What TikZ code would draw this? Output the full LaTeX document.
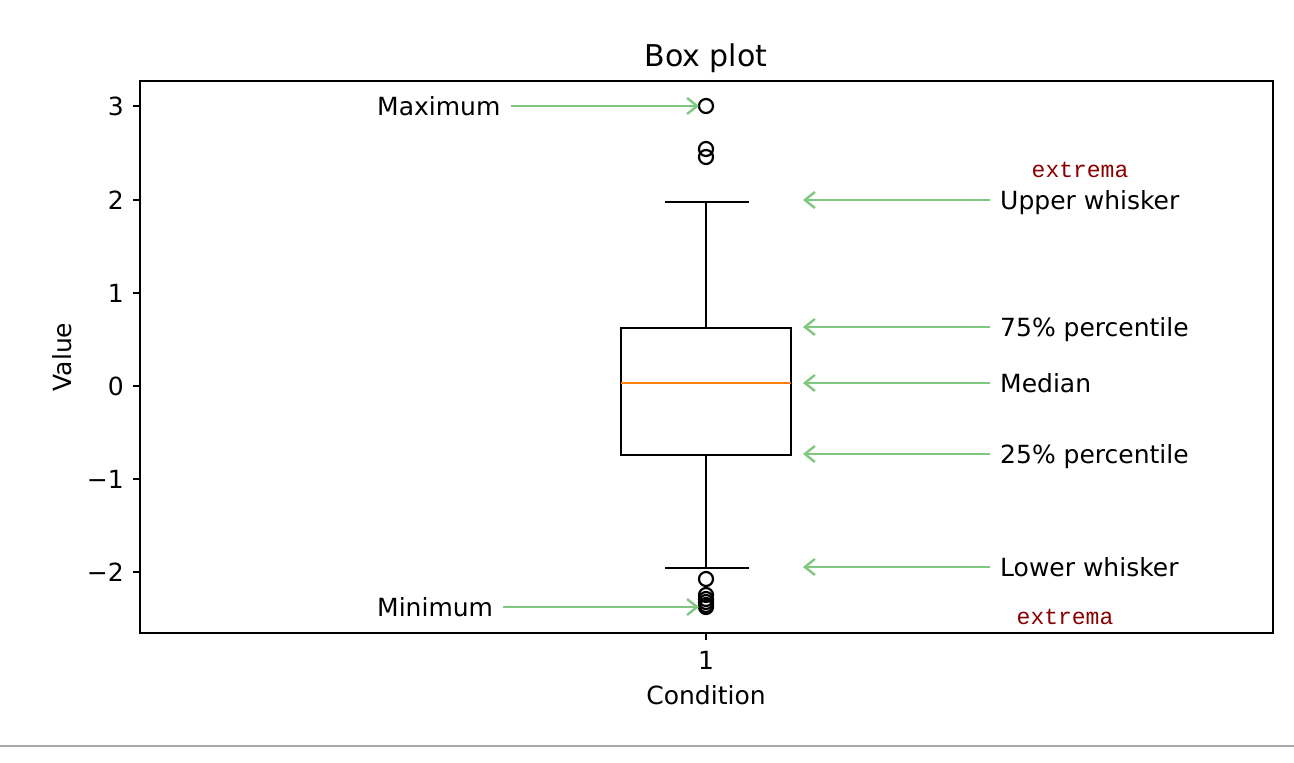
\documentclass[tikz,border=0pt]{standalone}
\usepackage{fontspec}
\setmainfont{DejaVu Sans}
\newfontfamily\extremafont{Liberation Mono}
\usepackage{tikz}
\usepackage{xcolor}
\usetikzlibrary{arrows.meta}
\definecolor{annogreen}{RGB}{128,200,128}
\definecolor{medorange}{RGB}{255,127,14}
\definecolor{extremared}{RGB}{139,0,0}
\definecolor{rulegray}{RGB}{170,170,170}

\begin{document}
\begin{tikzpicture}[x=1pt,y=-1pt,
    txt/.style={font=\fontsize{25}{30}\selectfont, inner sep=0pt, text height=18pt, text depth=0pt},
    ttl/.style={font=\fontsize{30}{36}\selectfont, inner sep=0pt, text height=22pt, text depth=0pt},
    xtr/.style={font=\extremafont\fontsize{23}{28}\selectfont, text=extremared, inner sep=0pt},
    ann/.style={annogreen, line width=2.4pt, -{Straight Barb[length=10pt,width=16pt]}},
    flier/.style={black, line width=2.2pt}]
                    \useasboundingbox (0,0) rectangle (1294,763);
                    \draw[black,line width=1.8pt] (140,81) rectangle (1273,633);
                    \draw[black,line width=1.8pt] (133,106) -- (140,106);
                    \draw[black,line width=1.8pt] (133,200) -- (140,200);
                    \draw[black,line width=1.8pt] (133,293) -- (140,293);
                    \draw[black,line width=1.8pt] (133,386) -- (140,386);
                    \draw[black,line width=1.8pt] (133,479) -- (140,479);
                    \draw[black,line width=1.8pt] (133,572) -- (140,572);
                    \draw[black,line width=1.8pt] (706,633) -- (706,640);
                    \node[txt,anchor=east] (ytick3) at (124,106){3};
                    \node[txt,anchor=east] (ytick2) at (124,200){2};
                    \node[txt,anchor=east] (ytick1) at (124,293){1};
                    \node[txt,anchor=east] (ytick0) at (124,386){0};
                    \node[txt,anchor=east] (ytickm1) at (124,479){−1};
                    \node[txt,anchor=east] (ytickm2) at (124,572){−2};
                    \node[txt] (xtick1) at (706,660){1};
                    \node[txt] (xlabel) at (706,695){Condition};
                    \node[txt,rotate=90] (ylabel) at (62,357){Value};
                    \node[ttl] (title) at (706,55){Box plot};

                    \draw[black,line width=2.2pt] (621,328) rectangle (791,455);
                    \draw[medorange,line width=2.2pt] (621,383) -- (791,383);
                    \draw[black,line width=2.2pt] (706,328) -- (706,202);
                    \draw[black,line width=2.2pt] (665,202) -- (749,202);
                    \draw[black,line width=2.2pt] (706,455) -- (706,568);
                    \draw[black,line width=2.2pt] (665,568) -- (749,568);
                    \draw[flier] (706,106) circle (7);
                    \draw[flier] (706,149) circle (7);
                    \draw[flier] (706,157) circle (7);
                    \draw[flier] (706,579) circle (7);
                    \draw[flier] (706,595) circle (7);
                    \draw[flier] (706,599) circle (7);
                    \draw[flier] (706,602) circle (7);
                    \draw[flier] (706,605) circle (7);
                    \draw[flier] (706,607) circle (7);

                    \coordinate (maxpt) at (699,106);
                    \coordinate (minpt) at (699,607);
                    \coordinate (uwpt) at (803,200);
                    \coordinate (q3pt) at (803,327);
                    \coordinate (medpt) at (803,383);
                    \coordinate (q1pt) at (803,454);
                    \coordinate (lwpt) at (803,567);
                    \node[txt,anchor=west] (maxlbl) at (377,106){Maximum};
                    \node[txt,anchor=west] (minlbl) at (377,607){Minimum};
                    \node[txt,anchor=west] (uwlbl) at (1000,200){Upper whisker};
                    \node[txt,anchor=west] (q3lbl) at (1000,327){75\% percentile};
                    \node[txt,anchor=west] (medlbl) at (1000,383){Median};
                    \node[txt,anchor=west] (q1lbl) at (1000,454){25\% percentile};
                    \node[txt,anchor=west] (lwlbl) at (1000,567){Lower whisker};
                    \draw[ann] ([xshift=10pt]maxlbl.east) -- (maxpt);
                    \draw[ann] ([xshift=10pt]minlbl.east) -- (minpt);
                    \draw[ann] ([xshift=-10pt]uwlbl.west) -- (uwpt);
                    \draw[ann] ([xshift=-10pt]q3lbl.west) -- (q3pt);
                    \draw[ann] ([xshift=-10pt]medlbl.west) -- (medpt);
                    \draw[ann] ([xshift=-10pt]q1lbl.west) -- (q1pt);
                    \draw[ann] ([xshift=-10pt]lwlbl.west) -- (lwpt);
                    \node[xtr] (upextrema) at (1080,170){extrema};
                    \node[xtr] (lowextrema) at (1065,617){extrema};

                    \draw[rulegray,line width=1.5pt] (0,746) -- (1294,746);
\end{tikzpicture}
\end{document}
